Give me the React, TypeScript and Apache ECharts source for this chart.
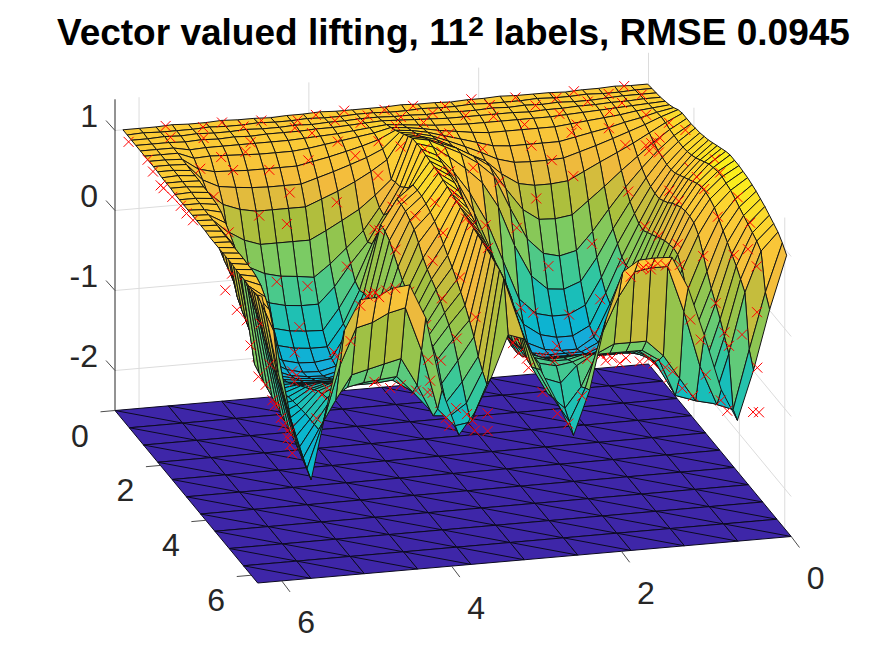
import React, { useEffect, useRef } from "react";
import * as echarts from "echarts";

const titleLead = "Vector valued lifting, 11";
const titleSup = "2";
const titleTail = " labels, RMSE 0.0945";
const xTicks = [0, 2, 4, 6];
const yTicks = [0, 2, 4, 6];
const zTicks = [1, 0, -1, -2];
const floorZ = -2.5;
const topZ = 1.39;
const floorCells = 10;
const uGrid = [0,.19,.38,.57,.77,.96,1.15,1.34,1.53,1.72,1.91,2.1,2.3,2.49,2.68,2.87,3.06,3.25,3.44,3.63,3.83,4.02,4.2,4.4,4.6,4.78,4.97,5.16,5.36,5.55,5.74,5.93,6.12];
const vGrid = [6.19,6,5.8,5.61,5.42,5.22,5.03,4.84,4.65,4.45,4.26,4.07,3.87,3.68,3.49,3.29,3.1,2.91,2.72,2.52,2.33,2.14,1.94,1.75,1.56,1.36,1.17,.98,.78,.59,.4,.21,.01];
// heights x 100, one row per uGrid entry, one column per vGrid entry
const surfaceRows = [
[100,100,100,101,100,100,101,100,100,99,100,100,101,100,100,100,100,101,100,100,99,100,100,101,100,100,100,99,100,100,101,100,100],
[100,101,100,100,100,101,100,100,101,100,100,101,100,100,101,101,100,100,101,100,100,101,100,100,100,101,100,100,101,100,100,101,101],
[100,100,101,100,101,100,100,101,100,100,101,100,101,101,102,102,101,101,100,101,100,100,101,100,101,100,101,100,100,101,102,102,102],
[100,100,100,99,100,99,100,99,100,100,100,101,101,102,103,104,103,102,101,100,100,100,100,100,99,100,100,101,101,102,102,103,103],
[100,100,100,96,97,97,97,97,97,97,98,99,100,102,104,106,104,102,100,99,98,98,98,98,98,98,99,100,101,102,103,104,105],
[100,100,100,92,93,92,91,90,90,90,92,95,98,101,104,109,107,104,100,97,94,92,92,92,92,92,94,96,98,100,103,105,107],
[100,100,99,85,80,79,78,78,78,78,82,86,91,96,102,112,110,106,100,94,88,82,80,80,80,80,84,88,92,97,101,106,110],
[100,100,99,78,68,65,63,62,62,62,68,74,81,88,97,116,113,108,100,91,82,72,66,65,65,66,72,78,85,92,99,107,114],
[100,100,98,70,52,44,40,40,40,40,48,56,66,77,90,120,116,110,100,88,78,60,46,42,42,44,54,64,74,84,95,106,116],
[99,100,98,50,25,12,5,5,5,5,15,26,38,54,72,124,120,112,104,92,78,48,20,6,5,8,24,40,58,74,90,104,116],
[99,99,98,30,0,-15,-25,-30,-32,-35,-20,-2,18,45,75,128,124,114,104,90,72,30,-10,-30,-35,-30,-8,18,44,66,86,103,116],
[99,99,97,17,-15,-40,-55,-60,-62,-62,-42,-15,10,42,76,128,122,108,92,72,40,-10,-50,-68,-70,-62,-34,0,32,60,84,102,117],
[98,99,97,10,-30,-65,-80,-85,-87,-88,-62,-30,15,52,82,128,118,96,68,30,-20,-70,-90,-95,-95,-85,-52,-12,24,56,82,102,118],
[98,98,96,5,-45,-80,-95,-100,-102,-102,-75,-35,30,65,88,127,116,88,50,0,-55,-95,-110,-115,-115,-104,-65,-22,18,54,82,103,120],
[98,98,95,0,-60,-95,-107,-112,-113,-110,-78,-32,52,82,98,126,114,78,30,-35,-85,-112,-122,-125,-125,-112,-72,-26,16,54,84,105,122],
[98,97,92,-16,-70,-100,-112,-117,-118,-113,-80,-33,50,82,98,125,112,68,10,-60,-100,-118,-122,-122,-122,-112,-72,-24,20,58,88,108,125],
[98,97,85,-25,-80,-105,-113,-116,-117,-112,-80,-34,45,80,97,124,110,58,-8,-75,-108,-118,-118,-118,-118,-110,-70,-22,24,62,92,112,128],
[98,97,78,-32,-85,-105,-110,-112,-113,-109,-78,-35,35,75,94,122,106,48,-25,-85,-106,-112,-112,-112,-112,-105,-65,-18,28,68,96,116,131],
[98,97,70,-40,-90,-103,-106,-108,-108,-105,-76,-36,25,70,90,120,102,38,-35,-88,-100,-106,-106,-106,-106,-100,-60,-14,32,72,100,120,134],
[98,96,60,-74,-95,-100,-102,-103,-103,-100,-72,-36,15,60,85,118,98,30,-45,-88,-96,-100,-100,-100,-100,-94,-55,-10,36,76,104,122,136],
[97,96,50,-78,-95,-95,-96,-97,-97,-94,-68,-36,8,48,78,116,94,22,-50,-85,-90,-92,-92,-92,-92,-86,-50,-6,38,78,106,124,136],
[97,96,40,-82,-93,-90,-90,-90,-90,-88,-65,-35,2,40,70,114,90,15,-52,-80,-84,-85,-85,-85,-85,-80,-46,-4,40,78,106,124,136],
[97,95,30,-85,-92,-85,-83,-83,-83,-80,-60,-34,-3,34,62,112,86,8,-52,-74,-76,-78,-78,-78,-78,-74,-44,-4,38,76,104,122,135],
[97,95,20,-88,-90,-80,-76,-76,-76,-74,-56,-32,-6,28,54,110,82,0,-50,-68,-70,-72,-72,-72,-72,-70,-50,-18,26,68,100,120,134],
[97,95,10,-92,-88,-75,-70,-70,-70,-67,-52,-30,-10,20,45,108,78,-5,-48,-62,-64,-64,-64,-64,-64,-66,-60,-38,5,52,92,116,132],
[97,94,0,-96,-87,-70,-64,-64,-64,-62,-50,-32,-15,12,36,106,74,-10,-44,-56,-56,-56,-56,-56,-56,-62,-68,-55,-15,35,84,112,130],
[96,94,-10,-100,-86,-65,-58,-58,-58,-56,-50,-38,-22,3,26,104,70,-14,-42,-50,-50,-48,-48,-48,-48,-58,-75,-68,-30,20,76,108,127],
[96,92,-20,-104,-85,-62,-52,-52,-52,-50,-52,-48,-32,-8,14,102,66,-18,-40,-46,-46,-41,-41,-41,-41,-52,-80,-78,-45,8,68,104,124],
[96,88,-30,-108,-85,-60,-47,-47,-47,-45,-58,-75,-55,-28,0,100,60,-22,-40,-45,-42,-35,-34,-34,-34,-50,-85,-88,-62,-5,60,100,120],
[95,80,-40,-114,-85,-55,-42,-38,-36,-34,-55,-78,-72,-48,-18,97,52,-28,-52,-60,-40,-28,-28,-28,-28,-42,-88,-95,-80,-20,50,96,116],
[95,70,-50,-120,-85,-50,-20,-15,-10,-5,-40,-80,-82,-68,-30,95,40,-30,-65,-85,-60,-20,-10,-10,-10,-30,-60,-90,-95,-35,40,90,112],
[97,50,-62,-126,-70,0,45,50,60,65,10,-65,-88,-85,-40,90,30,-25,-62,-95,-55,10,55,85,88,88,30,-40,-90,-98,-25,45,105],
[102,5,-76,-133,-41,50,87,88,98,100,57,-35,-93,-66,-25,27,20,-20,-61,-106,-51,35,93,106,107,106,66,5,-65,-105,-44,30,96],
];
// observed samples: [x, y, value]
const samples = [
[.05,5.7,1.02],[.2,5.3,1.02],[.1,5.05,1.02],[.45,5.75,1.02],[.3,4.85,1.02],[.6,5.4,1.03],[.15,4.6,1.02],[.5,4.3,1.02],[.25,4.2,1.02],[.8,4.9,1],[.12,3.95,1.02],[.4,3.8,1.03],[.7,4.15,1.01],[.06,3.6,1.02],[.35,3.4,1.04],[.6,3.55,1.05],[.15,3.15,1.02],[.5,3.05,1.04],[.85,3.2,1.06],[.1,2.8,1.02],[.4,2.65,1.02],[.75,2.85,1.04],[.2,2.45,1.02],[.55,2.3,1.01],[.05,2.1,1.02],[.3,1.95,1.02],[.65,2,1],[.9,1.7,.96],[.12,1.6,1.02],[.45,1.45,1.02],[.25,1.15,1.02],[.75,1.25,1],[.08,.9,1.02],[.5,.85,1.03],[.3,.55,1.03],[.7,.5,1.05],[.05,.3,1.02],[.45,.2,1.04],[.9,.7,1.03],[.95,5,.94],
[1.2,5.6,.87],[1.15,5.2,.8],[1.25,4.8,.8],[1.1,4.3,.82],[1.3,3.8,.9],[1.2,3.5,1.02],[1.15,2.75,1.02],[1.3,2.3,.85],[1.2,1.7,.8],[1.1,1.2,.88],[1.25,.8,.95],[1.2,.35,1.06],
[1.6,5.55,.65],[1.55,5,.35],[1.65,4.7,.25],[1.6,4.1,.45],[1.55,3.6,.72],[1.6,2.9,1.05],[1.65,2.2,.55],[1.6,1.75,.28],[1.55,1.3,.5],[1.6,.7,.85],[1.65,.2,1.1],
[2,5.55,.28],[2.05,5.3,-.1],[1.95,4.9,-.35],[2,4.55,-.42],[2.05,4.1,-.2],[1.95,3.75,.2],[2,3.55,.48],[2.1,3,1.15],[2,2.6,.88],[2.05,2.1,.1],[1.95,1.7,-.45],[2,1.2,-.2],[2.1,.8,.45],[1.95,.4,.85],[2,.1,1.12],
[2.6,5.6,.04],[2.65,5.2,-.88],[2.55,4.85,-1.03],[2.6,4.4,-1.05],[2.7,4,-.33],[2.55,3.85,.4],[2.6,3.6,.78],[2.65,3.05,1.1],[2.55,2.6,.35],[2.6,2.2,-.7],[2.7,1.8,-1.18],[2.55,1.25,-.7],[2.6,1,-.25],[2.65,.75,.2],[2.6,.45,.6],[2.55,.2,.85],
[3.2,5.8,.78],[3.25,5.6,-.32],[3.15,5.45,-.82],[3.2,5,-1.08],[3.3,4.5,-1.08],[3.2,4.25,-.78],[3.15,4.05,-.34],[3.25,3.85,.4],[3.2,3.6,.78],[3.3,3.4,.97],[3.2,2.95,.52],[3.1,2.7,-.22],[3.25,2.1,-1.1],[3.2,1.2,-.66],[3.25,.95,-.2],[3.15,.72,.25],[3.2,.5,.68],[3.25,.3,.98],[3.3,.1,1.2],
[3.9,5.8,.48],[3.95,5.65,-.78],[3.85,5.2,-.92],[3.9,4.7,-.94],[4,4.25,-.64],[3.9,4.05,-.33],[3.85,3.85,.08],[3.95,3.6,.48],[3.85,3.45,.78],[3.9,3.3,1.17],[3.95,2.95,.2],[3.9,2.75,-.48],[3.85,2.3,-.88],[3.9,1.6,-.9],[4,1.2,-.46],[3.85,.95,-.04],[3.9,.7,.4],[3.95,.4,1.08],[3.9,.2,1.25],
[4.6,5.8,.12],[4.65,5.6,-.9],[4.55,5.2,-.76],[4.6,4.8,-.68],[4.55,4.25,-.52],[4.65,4.05,-.3],[4.6,3.85,-.08],[4.55,3.65,.22],[4.6,3.45,.48],[4.55,3.3,1.1],[4.6,2.98,-.03],[4.65,2.72,-.46],[4.5,2.3,-.62],[4.6,1.8,-.62],[4.55,1,-.38],[4.6,.8,.07],[4.65,.6,.5],[4.55,.4,.94],[4.6,.18,1.18],
[5.2,5.85,-.18],[5.15,5.6,-1.02],[5.25,5.25,-.6],[5.2,4.6,-.5],[5.15,4.05,-.46],[5.25,3.85,-.3],[5.2,3.65,-.06],[5.1,3.4,.15],[5.2,3.28,1.04],[5.25,3,-.16],[5.2,2.5,-.44],[5.1,1.9,-.4],[5.25,1.4,-.5],[5.2,1.15,-.78],[5.15,.95,-.76],[5.3,.75,-.44],[5.2,.6,.1],[5.25,.4,.7],[5.15,.18,1.05],
[5.6,4.54,-.46],[5.55,4.4,-.45],[5.65,4.25,-.5],[5.5,4.7,-.4],[5.6,4.1,-.55],[5.45,4,-.62],[5.6,3.95,-.7],[5.55,3.75,-.8],[5.65,3.65,-.85],[5.6,1.6,-.4],[5.55,1.75,-.36],[5.65,1.45,-.42],[5.5,1.9,-.36],[5.6,1.3,-.5],[5.6,2,-.35],[5.65,1.85,-.38],[5.55,1.2,-.58],[5.6,1.1,-.78],[5.7,1,-.85],
[6.1,.4,-.97],[6.1,.33,-.98],[6.1,.35,-.42],[6.15,3.54,-.68],[6.15,3.54,-.9],[6.15,3.69,-.88],[6.15,3.72,-.75],
[.1,6.15,.88],[.9,6.14,.93],[1.1,6.13,.85],[1.7,6.2,.89],[1.75,6.18,.87],[2.1,6.17,.88],[2.4,6.15,.87],[2.65,6.15,.86],[2.9,6.14,.86],[3.5,5.92,.17],[3.6,5.81,-.05],[4.2,5.81,-.29],[4.9,5.82,-.54],[5.2,5.82,-.63],[5.3,5.82,-.66],[5.5,5.8,-.75],[5.6,5.8,-.81],[5.7,5.75,-.88],[5.8,5.8,-.9],[5.9,5.8,-.95],[6,5.8,-1.02],
[6,1.58,.94],[6.02,1.5,.96],[5.95,1.65,.9],[6.05,1.7,.92],[5.9,1.55,.85],[6,1.4,.92],[5.95,1.8,.8],[6.05,1.25,.93],[6,4.82,.9],[6.02,4.7,.92],[5.95,4.9,.85],[6.05,4.6,.95],[5.9,4.75,.8],[6,5,.75],[1.8,.45,.92],[1.85,.4,.95],[1.75,.5,.88],[1.9,.5,.86],[1.8,.35,.98],
[5.75,2.95,-.3],[5.8,2.8,-.6],[5.9,2.65,-.85],[6,2.55,-.95],[5.5,3,-.2],[5.3,2.85,-.35],[5,2.9,-.2],[6.05,2.4,-.6],[5.9,2.3,-.2],[5.85,2.2,.1],
[5.8,.7,-.9],[5.9,.65,-1],[5.5,.7,-.85],[5.7,.85,-.6],[5.85,.95,-.1],[5.95,1.1,.2],[5.6,.55,-.3],[5.4,.55,-.2],[5.8,.45,-.1],[5.9,.3,.2],[5.7,.25,.7],[5.5,.3,.85],
[5.75,5.45,-.7],[5.85,5.35,-.3],[5.9,5.25,.1],[5.95,5.1,.3],[6,3.95,-.85],[5.85,3.95,-.8],[6,4.2,0],[5.9,4.15,-.3],
[4.3,3.3,1.1],[3.4,3.2,1.1],[2.9,3.25,1.2],[2.3,3.25,1.28],[1.8,3.4,1.15],[1.4,3.1,1.1],[4.9,2,-.48],[4.2,1.4,-.75],[3.6,1.45,-1],[3,1.7,-1.2],[2.3,1.55,-.95],[2.4,2,-.85],[2.2,4.7,-.85],[3,5,-1.1],[2.3,5.3,-.4],[1.4,4.6,.55],[1.35,1.5,.65],[.95,2.6,.95],[.95,1.1,.92],[.9,3.9,.95],[1,5.3,.92],
];
const parula = [[62,38,168],[71,74,240],[48,128,250],[33,161,230],[8,184,204],[51,199,158],[120,204,102],[168,191,61],[242,186,61],[252,204,54],[250,250,20]];

const TWO_PI = Math.PI * 2;
function project(u: number, v: number, z: number): [number, number] {
  const a = u / TWO_PI;
  const b = (TWO_PI - v) / TWO_PI;
  return [115 + 142.7 * a + 533.5 * b, 410.5 + 172.5 * a - 46.5 * b - (z - floorZ) * 80];
}
function colorOf(z: number): string {
  const t = Math.max(0, Math.min(0.9999, (z - floorZ) / (topZ - floorZ))) * (parula.length - 1);
  const k = Math.floor(t);
  const f = t - k;
  const c = parula[k].map((p, n) => Math.round(p + (parula[k + 1][n] - p) * f));
  return `rgb(${c[0]},${c[1]},${c[2]})`;
}

type Item = { key: number; build: (api: any) => any };

function buildItems(): Item[] {
  const items: Item[] = [];
  const pt = (api: any, u: number, v: number, z: number) => api.coord(project(u, v, z));
  const line = (p: number[], q: number[], stroke: string, lineWidth: number) => ({
    type: "line",
    shape: { x1: p[0], y1: p[1], x2: q[0], y2: q[1] },
    style: { stroke, lineWidth, fill: "none" },
  });
  const gridGray = "#dcdcdc";
  const axisGray = "#4d4d4d";
  // walls and box
  items.push({ key: -3, build: (api) => {
    const children: any[] = [];
    for (const v of yTicks.slice(1)) children.push(line(pt(api, 0, v, floorZ), pt(api, 0, v, topZ), gridGray, 1));
    for (const u of xTicks.slice(1)) children.push(line(pt(api, u, 0, floorZ), pt(api, u, 0, topZ), gridGray, 1));
    children.push(line(pt(api, 0, 0, floorZ), pt(api, 0, 0, topZ), gridGray, 1));
    for (const z of zTicks) {
      children.push(line(pt(api, 0, TWO_PI, z), pt(api, 0, 0, z), gridGray, 1));
      children.push(line(pt(api, 0, 0, z), pt(api, TWO_PI, 0, z), gridGray, 1));
    }
    return { type: "group", children };
  }});
  // floor
  items.push({ key: -2, build: (api) => {
    const children: any[] = [];
    const step = TWO_PI / floorCells;
    for (let a = 0; a < floorCells; a++) for (let b = 0; b < floorCells; b++) {
      const u0 = a * step, u1 = u0 + step, v0 = TWO_PI - b * step, v1 = v0 - step;
      const p = pt(api, u0, v0, floorZ), q = pt(api, u0, v1, floorZ), r = pt(api, u1, v1, floorZ), s = pt(api, u1, v0, floorZ);
      children.push({ type: "polygon", shape: { points: [p, q, r, s] }, style: { fill: "rgb(62,38,168)", stroke: "#0c0a20", lineWidth: 1 } });
      children.push(line(p, r, "#0c0a20", 1));
    }
    return { type: "group", children };
  }});
  // axes, ticks and labels
  items.push({ key: -1, build: (api) => {
    const children: any[] = [];
    const ink = "#262626";
    const label = (text: string, x: number, y: number, align: string) => ({
      type: "text",
      style: { text, x, y, align, verticalAlign: "middle", fontFamily: "Liberation Sans, Arial, sans-serif", fontSize: 32, fill: ink },
    });
    children.push(line(pt(api, 0, TWO_PI, floorZ), pt(api, 0, TWO_PI, topZ), ink, 1));
    for (const z of zTicks) {
      const p = pt(api, 0, TWO_PI, z);
      children.push(line(p, [p[0] - 9, p[1] - 10], axisGray, 1));
      children.push(label(String(z), p[0] - 17, p[1] - 15, "right"));
    }
    for (const u of xTicks) {
      const p = pt(api, u, TWO_PI, floorZ);
      children.push(line(p, [p[0] - 14.5, p[1] + 1.3], axisGray, 1));
      children.push(label(String(u), p[0] - 35, p[1] + 25, "center"));
    }
    for (const v of yTicks) {
      const p = pt(api, TWO_PI, v, floorZ);
      children.push(line(p, [p[0] + 8.3, p[1] + 11], axisGray, 1));
      children.push(label(String(v), p[0] + 24.5, p[1] + 41.5, "center"));
    }
    return { type: "group", children };
  }});
  // surface cells, far to near
  const nI = uGrid.length, nJ = vGrid.length;
  for (let i = 0; i < nI - 1; i++) for (let j = nJ - 2; j >= 0; j--) {
    const zs = [surfaceRows[i][j], surfaceRows[i][j + 1], surfaceRows[i + 1][j + 1], surfaceRows[i + 1][j]].map((n) => n / 100);
    const fill = colorOf((zs[0] + zs[1] + zs[2] + zs[3]) / 4);
    items.push({
      key: i * nJ + (nJ - 2 - j),
      build: (api) => ({
        type: "polygon",
        shape: { points: [
          pt(api, uGrid[i], vGrid[j], zs[0]), pt(api, uGrid[i], vGrid[j + 1], zs[1]),
          pt(api, uGrid[i + 1], vGrid[j + 1], zs[2]), pt(api, uGrid[i + 1], vGrid[j], zs[3]),
        ] },
        style: { fill, stroke: "#141414", lineWidth: 1 },
      }),
    });
  }
  // samples, drawn in depth order with the cells
  for (const s of samples) {
    const row = s[0] / 0.191;
    const col = (6.19 - s[1]) / 0.193;
    items.push({
      key: (row + 1.5) * nJ + (nJ - 2 - col) + 0.5,
      build: (api) => {
        const c = pt(api, s[0], s[1], s[2]);
        const h = 5;
        return { type: "group", children: [
          line([c[0] - h, c[1] - h], [c[0] + h, c[1] + h], "#ff0000", 1),
          line([c[0] - h, c[1] + h], [c[0] + h, c[1] - h], "#ff0000", 1),
        ] };
      },
    });
  }
  items.sort((a, b) => a.key - b.key);
  return items;
}

export default function App() {
  const ref = useRef<HTMLDivElement>(null);
  useEffect(() => {
    if (!ref.current) return;
    const chart = echarts.init(ref.current, undefined, { renderer: "svg" });
    const items = buildItems();
    chart.setOption({
      animation: false,
      backgroundColor: "#ffffff",
      title: {
        left: 57,
        top: 1,
        padding: 0,
        text: `{a|${titleLead}}{s|${titleSup}}{a|${titleTail}}`,
        textStyle: {
          rich: {
            a: { fontFamily: "Liberation Sans, Arial, sans-serif", fontWeight: "bold", fontSize: 37, color: "#000", height: 37, verticalAlign: "bottom" },
            s: { fontFamily: "Liberation Sans, Arial, sans-serif", fontWeight: "bold", fontSize: 28, color: "#000", height: 50, verticalAlign: "top" },
          },
        },
      },
      grid: { left: 0, right: 0, top: 0, bottom: 0 },
      xAxis: { type: "value", min: 0, max: 875, show: false },
      yAxis: { type: "value", min: 0, max: 656, inverse: true, show: false },
      series: [{
        type: "custom",
        coordinateSystem: "cartesian2d",
        clip: false,
        silent: true,
        progressive: 0,
        data: items.map((_, n) => [n, 0]),
        encode: { x: 0, y: 1 },
        renderItem: (params: any, api: any) => items[params.dataIndex].build(api),
      }],
    });
    return () => chart.dispose();
  }, []);
  return <div ref={ref} style={{ position: "absolute", left: 0, top: 0, width: 875, height: 656 }} />;
}
